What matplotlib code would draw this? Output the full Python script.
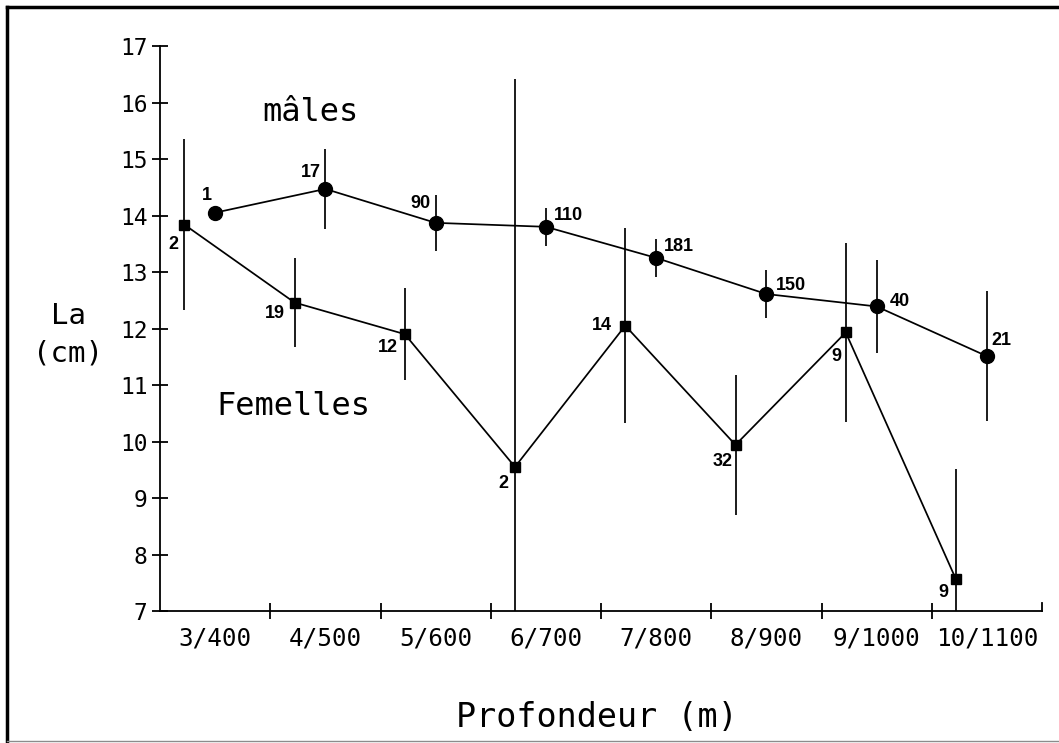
import matplotlib
matplotlib.use("Agg")
import matplotlib.pyplot as plt
from matplotlib.lines import Line2D
import numpy as np

# ---- data ----
categories = ["3/400", "4/500", "5/600", "6/700", "7/800", "8/900", "9/1000", "10/1100"]
males_mean = [14.05, 14.47, 13.87, 13.80, 13.25, 12.61, 12.39, 11.51]
males_err = [0.0, 0.71, 0.49, 0.34, 0.33, 0.42, 0.82, 1.15]
males_n = ["1", "17", "90", "110", "181", "150", "40", "21"]
females_mean = [13.84, 12.46, 11.90, 9.55, 12.05, 9.94, 11.93, 7.56]
females_err = [1.52, 0.79, 0.81, 6.86, 1.72, 1.24, 1.58, 1.95]
females_n = ["2", "19", "12", "2", "14", "32", "9", "9"]
y_ticks = [7, 8, 9, 10, 11, 12, 13, 14, 15, 16, 17]

# ---- layout / style ----
W, H = 1059, 743
MONO = "DejaVu Sans Mono"
fig = plt.figure(figsize=(W / 100, H / 100), dpi=100)
fig.patch.set_facecolor("white")

def fx(px):
    return px / W

def fy(py):
    return 1 - py / H

ax = fig.add_axes([fx(160), fy(611), fx(1042) - fx(160), fy(46) - fy(611)])
ax.set_xlim(0, 8)
ax.set_ylim(7, 17)
for s in ("top", "right"):
    ax.spines[s].set_visible(False)
for s in ("left", "bottom"):
    ax.spines[s].set_linewidth(1.3)

idx = np.arange(len(categories))
x_m = idx + 0.5
x_f = idx + 0.22

ax.errorbar(x_f, females_mean, yerr=females_err, fmt="-s", color="black",
            ms=7.5, lw=1.25, elinewidth=1.25, capsize=0, zorder=3)
ax.errorbar(x_m, males_mean, yerr=males_err, fmt="-o", color="black",
            ms=10, lw=1.25, elinewidth=1.25, capsize=0, zorder=3)

# y axis
ax.set_yticks(y_ticks)
ax.set_yticklabels([str(v) for v in y_ticks], fontfamily=MONO, fontsize=16.5)
ax.tick_params(axis="y", direction="inout", length=12, width=1.3, pad=3)

# x axis: labels centred in categories, ticks at boundaries
ax.set_xticks(x_m)
ax.set_xticklabels(categories, fontfamily=MONO, fontsize=17.5)
ax.tick_params(axis="x", which="major", length=0, pad=11)
ax.set_xticks(np.arange(1, len(categories)), minor=True)
ax.tick_params(axis="x", which="minor", direction="inout", length=11, width=1.3)
ax.plot([8, 8], [0, 0.014], color="black", lw=1.3,
        transform=ax.get_xaxis_transform(), clip_on=False)

# count labels
m_off = [(-8, 17), (-14, 16), (-15, 19), (23, 11), (23, 11), (25, 9), (23, 5), (15, 16)]
f_off = [(-11, -20), (-20, -11), (-17, -13), (-12, -17), (-23, 0), (-13, -17), (-9, -24), (-13, -13)]
for x, y, t, o in zip(x_m, males_mean, males_n, m_off):
    ax.annotate(t, (x, y), xytext=o, textcoords="offset pixels", ha="center", va="center",
                fontsize=13, fontweight="bold", fontfamily="Liberation Sans")
for x, y, t, o in zip(x_f, females_mean, females_n, f_off):
    ax.annotate(t, (x, y), xytext=o, textcoords="offset pixels", ha="center", va="center",
                fontsize=13, fontweight="bold", fontfamily="Liberation Sans")

# text labels
fig.text(fx(310), fy(121), "mâles", fontfamily=MONO, fontsize=23, ha="center", va="baseline")
fig.text(fx(293), fy(415), "Femelles", fontfamily=MONO, fontsize=23, ha="center", va="baseline")
fig.text(fx(597), fy(727), "Profondeur (m)", fontfamily=MONO, fontsize=24, ha="center", va="baseline")
fig.text(fx(69), fy(324), "La", fontfamily=MONO, fontsize=21, ha="center", va="baseline")
fig.text(fx(68), fy(361), "(cm)", fontfamily=MONO, fontsize=21, ha="center", va="baseline")

# frame around the figure
fig.add_artist(Line2D([fx(7), fx(7)], [fy(7), fy(741)], lw=2.5, color="black", transform=fig.transFigure))
fig.add_artist(Line2D([fx(7), fx(1059)], [fy(7), fy(7)], lw=2.5, color="black", transform=fig.transFigure))
fig.add_artist(Line2D([fx(7), fx(1059)], [fy(741), fy(741)], lw=1.0, color="0.55", transform=fig.transFigure))

fig.savefig("out.png", dpi=100)
